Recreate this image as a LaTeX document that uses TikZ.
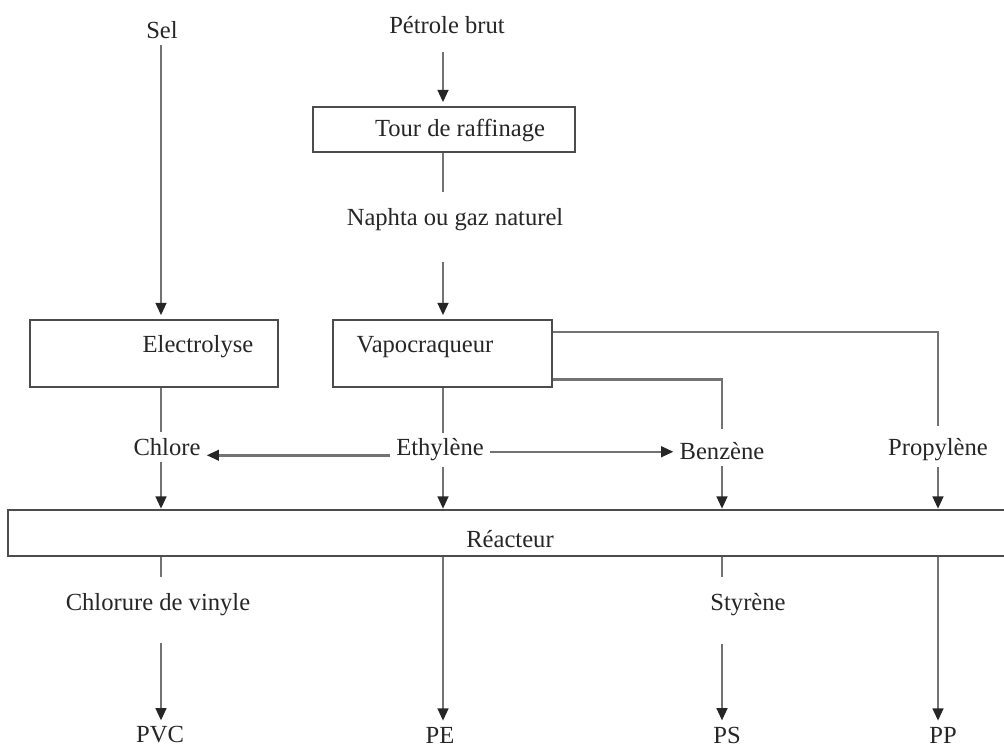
\documentclass[tikz,border=0pt]{standalone}
\usepackage{fontspec}
\setmainfont{Liberation Serif}
\usetikzlibrary{arrows.meta, positioning}

\begin{document}
\begin{tikzpicture}[x=0.02cm, y=-0.02cm,
        every node/.style={font=\fontsize{14}{16}\selectfont, text=black!85},
        box/.style={draw=black!70, line width=1.4pt, rectangle, inner sep=0pt},
        arr/.style={draw=black!55, line width=1.4pt, -{Triangle[length=7pt, width=6pt, color=black!85]}},
        lne/.style={draw=black!55, line width=1.4pt}]
        \useasboundingbox (0,0) rectangle (1004,747);

        % columns of the flow lines
        \coordinate (c1) at (161,0);
        \coordinate (c2) at (443,0);
        \coordinate (c3) at (722,0);
        \coordinate (c4) at (938,0);

        % boxes
        \node[box, minimum width=5.24cm, minimum height=0.9cm] (tour) at (444,129.5) {};
        \node (tourT) at (460,130) {Tour de raffinage};
        \node[box, minimum width=4.96cm, minimum height=1.34cm] (elec) at (154,353.5) {};
        \node (elecT) at (198,347) {Electrolyse};
        \node[box, minimum width=4.38cm, minimum height=1.34cm] (vapo) at (442.5,353.5) {};
        \node (vapoT) at (425,347) {Vapocraqueur};
        \node[box, minimum width=20.08cm, minimum height=0.92cm] (reac) at (510,533) {};
        \node (reacT) at (510,539) {Réacteur};

        % products
        \node (sel) at (162,30) {Sel};
        \node (petrole) at (447,25) {Pétrole brut};
        \node (naphta) at (455,220) {Naphta ou gaz naturel};
        \node (chlore) at (167,447) {Chlore};
        \node (ethyl) at (440,450) {Ethylène};
        \node (benz) at (722,451) {Benzène};
        \node (propy) at (938,450) {Propylène};
        \node (chlorure) at (158,605) {Chlorure de vinyle};
        \node (styrene) at (748,605) {Styrène};
        \node (pvc) at (160,735) {PVC};
        \node (pe) at (440,735) {PE};
        \node (ps) at (727,735) {PS};
        \node (pp) at (943,735) {PP};

        % upper part
        \draw[arr, shorten >=2pt] (sel.south -| c1) -- (elec.north -| c1);
        \draw[arr, shorten <=7pt, shorten >=2pt] (petrole.south -| c2) -- (tour.north -| c2);
        \draw[lne, shorten >=6pt] (tour.south -| c2) -- (naphta.north -| c2);
        \draw[arr, shorten <=14pt, shorten >=2pt] (naphta.south -| c2) -- (vapo.north -| c2);
        \draw[lne, shorten >=4pt] ([yshift=-7.4pt]vapo.north east) -| (propy.north -| c4);
        \draw[lne, shorten >=4pt] ([yshift=5pt]vapo.south east) -| (benz.north -| c3);
        \draw[lne] (elec.south -| c1) -- (chlore.north -| c1);
        \draw[lne] (vapo.south -| c2) -- (ethyl.north -| c2);
        \draw[arr] ([yshift=-3pt]ethyl.west) -- ([yshift=-3pt]ethyl.west -| chlore.east);
        \draw[arr] ([yshift=-1pt]ethyl.east) -- ([yshift=-1pt]ethyl.east -| benz.west);

        % into the reactor
        \foreach \n/\c in {chlore/c1, ethyl/c2, benz/c3, propy/c4} {
        \draw[arr] (\n.south -| \c) -- (reac.north -| \c);
        }

        % out of the reactor
        \draw[lne, shorten >=6pt] (reac.south -| c1) -- (chlorure.north -| c1);
        \draw[arr, shorten <=12pt] (chlorure.south -| c1) -- (pvc.north -| c1);
        \draw[arr] (reac.south -| c2) -- (pe.north -| c2);
        \draw[lne, shorten >=6pt] (reac.south -| c3) -- (styrene.north -| c3);
        \draw[arr, shorten <=12pt] (styrene.south -| c3) -- (ps.north -| c3);
        \draw[arr] (reac.south -| c4) -- (pp.north -| c4);
    \end{tikzpicture}
\end{document}
